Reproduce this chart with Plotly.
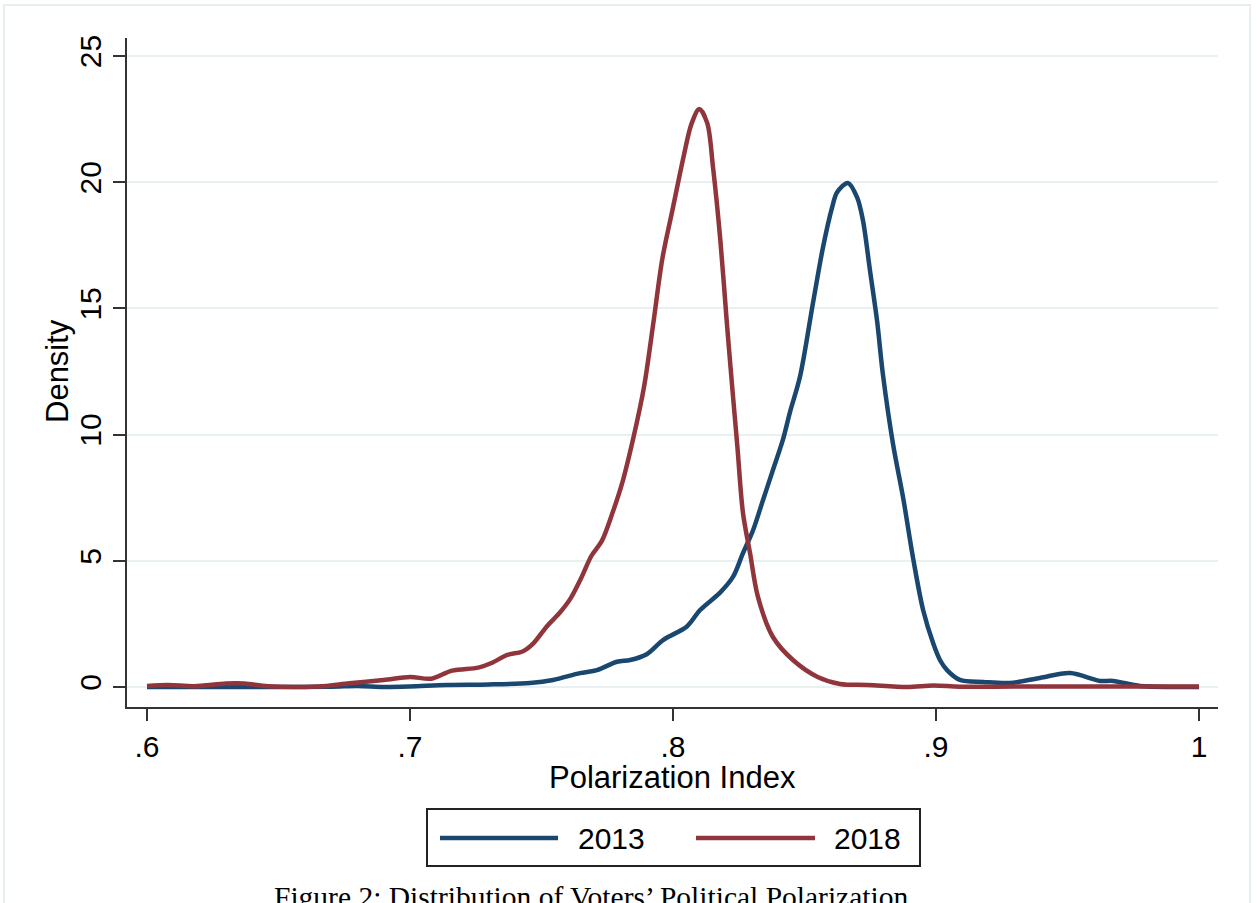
import plotly.graph_objects as go

# ---------------- data ----------------
x_2018 = [0.600, 0.608, 0.618, 0.630, 0.637, 0.646, 0.665, 0.677, 0.690, 0.700,
          0.708, 0.716, 0.726, 0.731, 0.737, 0.743, 0.747, 0.752, 0.757, 0.761,
          0.765, 0.769, 0.773, 0.777, 0.781, 0.785, 0.789, 0.7925, 0.796, 0.800,
          0.804, 0.807, 0.810, 0.813, 0.8152, 0.818, 0.8205, 0.8225, 0.8245, 0.8266,
          0.8293, 0.8323, 0.838, 0.8456, 0.855, 0.8635, 0.874, 0.889, 0.899, 0.909,
          0.930, 0.950, 0.970, 1.000]
y_2018 = [0.04, 0.08, 0.03, 0.14, 0.14, 0.03, 0.02, 0.15, 0.28, 0.40,
          0.33, 0.65, 0.77, 0.95, 1.27, 1.42, 1.74, 2.40, 2.95, 3.50,
          4.30, 5.20, 5.80, 6.90, 8.20, 9.90, 11.9, 14.4, 17.0, 19.0,
          21.0, 22.3, 22.9, 22.35, 20.6, 17.7, 14.4, 11.9, 9.5, 6.9,
          5.3, 3.57, 1.98, 1.07, 0.40, 0.12, 0.08, 0.0, 0.06, 0.01,
          0.02, 0.02, 0.02, 0.02]

x_2013 = [0.600, 0.640, 0.670, 0.680, 0.690, 0.700, 0.714, 0.730, 0.7456, 0.7544,
          0.7646, 0.7711, 0.7787, 0.7837, 0.790, 0.7962, 0.8053, 0.8103, 0.8179, 0.8228,
          0.8266, 0.8304, 0.8342, 0.838, 0.8418, 0.8445, 0.8483, 0.8532, 0.857, 0.8605,
          0.8624, 0.8665, 0.870, 0.8722, 0.8749, 0.8776, 0.8798, 0.8837, 0.8875, 0.8913,
          0.8951, 0.8989, 0.9015, 0.9042, 0.9091, 0.918, 0.928, 0.9395, 0.951, 0.9624,
          0.9673, 0.9776, 0.990, 1.000]
y_2013 = [0.0, 0.0, 0.01, 0.04, 0.0, 0.02, 0.08, 0.10, 0.16, 0.28,
          0.55, 0.67, 1.0, 1.07, 1.3, 1.86, 2.4, 3.05, 3.74, 4.36,
          5.3, 6.2, 7.4, 8.6, 9.8, 10.9, 12.3, 15.2, 17.4, 19.0,
          19.6, 19.97, 19.4, 18.5, 16.5, 14.5, 12.4, 9.6, 7.5, 5.1,
          3.05, 1.74, 1.07, 0.67, 0.28, 0.2, 0.16, 0.36, 0.55, 0.24,
          0.24, 0.04, 0.0, 0.0]

series_names = ["2013", "2018"]
series_colors = ["#1a476f", "#90353b"]

x_tickvals = [0.6, 0.7, 0.8, 0.9, 1.0]
x_ticktext = [".6", ".7", ".8", ".9", "1"]
y_tickvals = [0, 5, 10, 15, 20, 25]
y_ticktext = ["0", "5", "10", "15", "20", "25"]

x_title = "Polarization Index"
y_title = "Density"
caption = "Figure 2: Distribution of Voters\u2019 Political Polarization"

# ---------------- layout geometry ----------------
W, H = 1257, 903
L, R, T, B = 127, 1218, 38, 707  # plot area in pixels
PW, PH = R - L, B - T


def px_x(px):
    return (px - L) / PW


def px_y(py):
    return (B - py) / PH


FONT = "Arial, Liberation Sans, sans-serif"
AXIS_COLOR = "#333333"
GRID_COLOR = "#e8f0f1"

fig = go.Figure()
for name, color, xs, ys in zip(series_names, series_colors, [x_2013, x_2018], [y_2013, y_2018]):
    fig.add_trace(go.Scatter(
        x=xs, y=ys, mode="lines", name=name,
        line=dict(color=color, width=4.5, shape="spline", smoothing=0.9),
        showlegend=False,
    ))

fig.update_layout(
    width=W, height=H,
    margin=dict(l=L, r=W - R, t=T, b=H - B),
    paper_bgcolor="white", plot_bgcolor="white",
    font=dict(family=FONT, color="black"),
)

fig.update_xaxes(
    range=[0.6 - 20 / 2630, 1.0 + 19 / 2630],
    tickvals=x_tickvals, ticktext=x_ticktext,
    showline=True, linecolor=AXIS_COLOR, linewidth=2,
    ticks="outside", ticklen=12, tickwidth=2, tickcolor=AXIS_COLOR,
    tickfont=dict(size=30, family=FONT, color="black"),
    showgrid=False, zeroline=False,
)
fig.update_yaxes(
    range=[-20 / 25.24, 25 + 18 / 25.24],
    tickvals=y_tickvals, ticktext=y_ticktext, tickangle=-90,
    showline=True, linecolor=AXIS_COLOR, linewidth=2,
    ticks="outside", ticklen=12, tickwidth=2, tickcolor=AXIS_COLOR,
    tickfont=dict(size=30, family=FONT, color="black"),
    showgrid=True, gridcolor=GRID_COLOR, gridwidth=2, zeroline=False,
)

shapes = []
annotations = []

# outer light frame of the graph region
shapes.append(dict(type="rect", xref="paper", yref="paper",
                   x0=px_x(4), x1=px_x(1250), y0=px_y(960), y1=px_y(5),
                   line=dict(color="#e6eeee", width=2), fillcolor="rgba(0,0,0,0)", layer="below"))

# axis titles
annotations.append(dict(text=x_title, xref="paper", yref="paper",
                        x=px_x(672), y=px_y(777), xanchor="center", yanchor="middle",
                        showarrow=False, font=dict(size=31, family=FONT, color="black")))
annotations.append(dict(text=y_title, xref="paper", yref="paper",
                        x=px_x(57), y=px_y(371), xanchor="center", yanchor="middle",
                        textangle=-90, showarrow=False,
                        font=dict(size=31, family=FONT, color="black")))

# legend box
shapes.append(dict(type="rect", xref="paper", yref="paper",
                   x0=px_x(427), x1=px_x(920), y0=px_y(866), y1=px_y(809),
                   line=dict(color="#222222", width=2), fillcolor="white"))
leg_items = [(440, 558, 578), (696, 815, 834)]
for (lx0, lx1, tx), name, color in zip(leg_items, series_names, series_colors):
    shapes.append(dict(type="line", xref="paper", yref="paper",
                       x0=px_x(lx0), x1=px_x(lx1), y0=px_y(838), y1=px_y(838),
                       line=dict(color=color, width=4.5)))
    annotations.append(dict(text=name, xref="paper", yref="paper",
                            x=px_x(tx - 2), y=px_y(839), xanchor="left", yanchor="middle",
                            showarrow=False, font=dict(size=30, family=FONT, color="black")))

# caption (partially cut at the bottom in the reference)
annotations.append(dict(text=caption, xref="paper", yref="paper",
                        x=px_x(591), y=px_y(879), xanchor="center", yanchor="top",
                        showarrow=False,
                        font=dict(size=29.5, family="Liberation Serif, DejaVu Serif, serif", color="black")))

fig.update_layout(shapes=shapes, annotations=annotations)

fig.write_html("out.html", config={"displayModeBar": False},
               post_script="document.body.style.margin='0';document.body.style.overflow='hidden';")
